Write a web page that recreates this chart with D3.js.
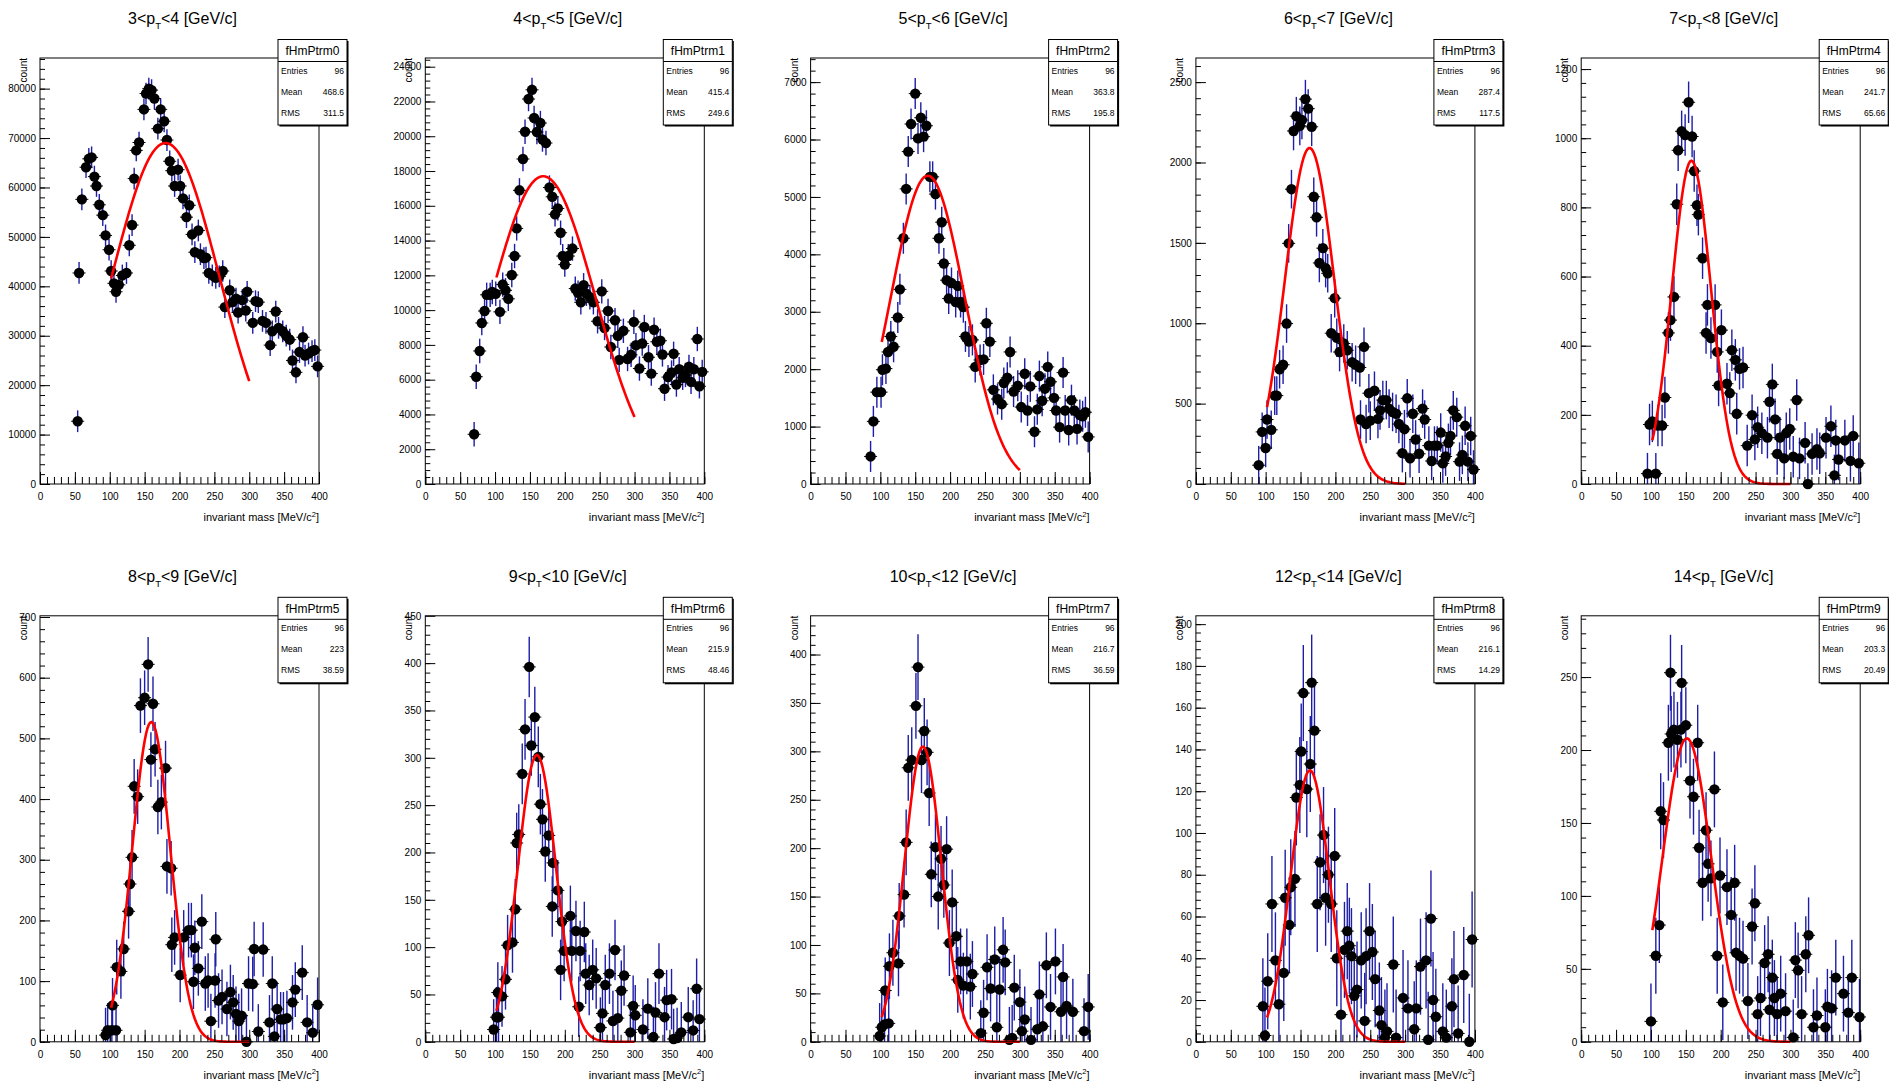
<!DOCTYPE html>
<html>
<head>
<meta charset="utf-8">
<script src="https://cdn.jsdelivr.net/npm/d3@7"></script>
<style>
  body { margin: 0; background: #fff; }
  svg { display: block; }
  text { font-family: "Liberation Sans", Arial, sans-serif; }
</style>
</head>
<body>
<svg width="1889" height="1083"></svg>
<script>
// pT bins of the ten pads
var ptLo = ["3", "4", "5", "6", "7", "8", "9", "10", "12", "14"];
var ptHi = ["4", "5", "6", "7", "8", "9", "10", "12", "14", ""];

// stats box contents
var histNames = ["fHmPtrm0", "fHmPtrm1", "fHmPtrm2", "fHmPtrm3", "fHmPtrm4",
                 "fHmPtrm5", "fHmPtrm6", "fHmPtrm7", "fHmPtrm8", "fHmPtrm9"];
var entries = [96, 96, 96, 96, 96, 96, 96, 96, 96, 96];
var means = ["468.6", "415.4", "363.8", "287.4", "241.7", "223", "215.9", "216.7", "216.1", "203.3"];
var rmss = ["311.5", "249.6", "195.8", "117.5", "65.66", "38.59", "48.46", "36.59", "14.29", "20.49"];

// y axis range and label step, typical half length of the error bars
var yMax = [86200, 24500, 7420, 2650, 1232, 702, 450, 440, 204, 292];
var yStep = [10000, 2000, 1000, 500, 200, 100, 50, 50, 20, 50];
var errBar = [2200, 700, 270, 120, 60, 45, 32, 34, 23, 26];

// gaussian fit parameters (amplitude, mean, sigma)
var fitAmp = [69000, 17700, 5370, 2090, 935, 527, 303, 305, 130, 208];
var fitMean = [180, 169, 168, 163, 158, 159.5, 160, 161, 163.5, 151.5];
var fitSigma = [77.5, 75, 53, 35.5, 28, 27.2, 27.5, 26.5, 28, 35];

// histogram points [mass, count]
var h0 = [[54,12700],[56,42700],[60,57600],[66,64100],[70,65800],[74,66100],[78,62200],[81,60300],[85,56500],[90,54400],[94,50300],[99,47400],[102,43100],[106,40600],[109,38900],[113,40300],[118,42200],[124,42700],[128,48300],[132,52400],[135,61800],[138,67500],[142,69100],[149,75800],[152,79000],[156,80000],[160,79700],[164,78000],[169,71900],[173,75800],[178,73400],[182,69600],[186,65300],[189,63400],[193,60300],[198,63600],[201,60300],[205,57800],[210,54000],[214,56400],[218,50500],[222,46900],[227,51300],[230,46500],[235,45700],[238,45800],[242,42700],[247,42200],[252,41700],[257,42000],[262,43100],[265,35800],[272,39200],[276,36800],[281,37500],[284,34700],[290,37200],[295,35100],[297,38900],[305,32600],[309,37000],[313,36800],[319,33000],[324,32600],[330,28100],[333,30900],[338,34900],[342,31600],[348,30900],[353,30000],[358,29200],[362,25000],[367,22600],[372,26700],[377,29700],[380,26000],[385,26400],[390,26900],[394,27100],[398,23800]];
var h1 = [[70,2860],[73,6170],[78,7650],[81,9260],[85,9950],[88,10880],[93,10880],[96,11040],[101,10940],[107,9900],[111,11470],[115,11140],[119,10650],[124,12020],[128,13110],[131,14700],[135,16890],[140,18690],[143,20260],[148,22140],[153,22670],[156,21050],[160,20240],[165,20760],[168,19810],[173,19610],[178,17050],[182,16520],[186,15510],[190,15850],[194,14450],[197,13110],[200,12620],[205,13110],[211,13540],[215,11240],[219,11000],[223,10450],[227,11430],[231,10940],[236,10740],[241,10450],[247,9360],[253,11080],[257,8970],[262,9950],[266,7880],[272,9420],[276,8520],[278,7140],[284,8810],[290,7190],[295,7430],[299,9320],[302,7980],[307,6640],[311,8080],[314,9030],[320,7290],[324,6350],[328,8870],[332,8180],[337,8240],[340,7450],[343,5480],[348,6150],[353,6410],[356,7490],[360,5720],[364,6600],[369,6110],[373,6270],[378,6740],[381,5870],[385,6600],[390,8340],[393,5620],[397,6450]];
var h2 = [[86,480],[90,1090],[95,1600],[101,1600],[103,1990],[108,2010],[111,2300],[115,2570],[119,2390],[125,2900],[128,3390],[133,4280],[137,5140],[140,5790],[144,6270],[150,6800],[154,6020],[158,6380],[162,6050],[166,6240],[171,5350],[175,5350],[179,5050],[184,4280],[188,4560],[191,3840],[195,3550],[198,3230],[202,3500],[208,3170],[211,3450],[215,3170],[219,3080],[222,2570],[227,2480],[232,2510],[236,2040],[243,2160],[248,2170],[252,2800],[257,2480],[262,1640],[268,1480],[274,1390],[277,1760],[282,1850],[286,2300],[291,1610],[297,1710],[302,1340],[307,1920],[311,1280],[315,1700],[321,910],[325,1300],[328,1880],[332,1450],[336,1660],[340,2040],[344,1780],[349,1500],[352,1280],[357,990],[362,1940],[365,1280],[370,940],[374,1460],[378,1280],[382,960],[386,1200],[390,1180],[394,1250],[398,820]];
var h3 = [[90,117],[95,324],[100,224],[102,401],[108,337],[113,550],[116,550],[120,714],[125,742],[130,998],[133,1497],[137,1834],[140,2196],[144,2288],[149,2228],[152,2264],[157,2394],[161,2335],[166,2222],[169,1787],[173,1659],[177,1375],[182,1467],[186,1343],[189,1311],[194,938],[199,1156],[202,910],[206,821],[212,874],[217,832],[224,757],[229,742],[235,725],[236,401],[241,853],[244,373],[248,565],[250,394],[256,580],[261,405],[264,458],[268,522],[273,522],[277,469],[282,448],[287,437],[291,373],[296,192],[299,341],[303,533],[307,160],[311,437],[315,277],[320,188],[325,469],[328,401],[334,239],[338,143],[342,239],[346,239],[351,320],[354,128],[358,171],[362,256],[365,299],[369,458],[374,416],[378,139],[382,181],[386,362],[390,139],[394,299],[398,90]];
var h4 = [[95,30],[98,172],[102,181],[107,30],[110,169],[116,169],[120,250],[125,437],[128,474],[133,541],[137,809],[139,965],[144,1020],[149,1009],[154,1104],[159,1005],[162,905],[166,806],[168,779],[174,653],[179,437],[181,518],[186,422],[192,518],[195,382],[197,285],[201,445],[209,290],[213,263],[216,387],[221,359],[223,203],[227,333],[232,337],[238,111],[245,199],[249,129],[253,164],[259,147],[267,134],[270,238],[274,288],[278,187],[281,87],[285,134],[291,74],[294,147],[299,159],[304,79],[309,243],[313,74],[321,119],[325,0],[331,87],[338,101],[342,89],[351,134],[358,167],[363,25],[365,126],[369,71],[378,126],[386,67],[390,139],[398,60]];
var h5 = [[94,11],[97,19],[103,19],[104,60],[109,19],[110,123],[116,116],[120,153],[127,215],[129,260],[132,304],[135,421],[140,404],[144,554],[150,567],[155,622],[159,465],[162,557],[165,482],[169,387],[174,395],[180,451],[182,289],[188,286],[189,160],[193,172],[201,110],[206,172],[213,184],[217,184],[220,99],[222,155],[227,121],[232,198],[237,96],[241,101],[245,34],[251,101],[252,169],[256,68],[261,74],[268,54],[273,82],[277,65],[281,46],[285,34],[289,43],[296,0],[299,96],[305,95],[307,153],[313,17],[320,152],[329,32],[333,96],[336,9],[340,54],[345,37],[349,37],[354,39],[362,65],[366,86],[376,114],[383,32],[391,15],[398,61]];
var h6 = [[98,13],[102,26],[104,52],[105,26],[110,48],[115,66],[118,102],[125,105],[129,140],[131,210],[134,219],[139,283],[143,330],[149,396],[152,313],[157,343],[162,301],[165,251],[168,235],[172,201],[177,218],[182,143],[183,189],[190,160],[194,76],[196,127],[199,96],[208,133],[210,96],[216,117],[220,37],[222,96],[228,116],[230,72],[235,60],[240,76],[245,67],[251,15],[254,30],[258,60],[264,72],[269,22],[272,97],[276,25],[281,54],[285,70],[294,10],[298,38],[301,28],[312,13],[319,35],[327,5],[330,31],[335,72],[343,26],[346,44],[353,45],[356,3],[361,4],[367,10],[377,26],[384,12],[389,56],[393,24]];
var h7 = [[99,6],[102,15],[106,18],[107,53],[112,19],[113,78],[118,92],[126,81],[127,130],[134,152],[137,206],[140,283],[145,291],[151,347],[154,387],[159,291],[163,321],[167,299],[170,257],[173,173],[179,201],[183,150],[187,189],[191,162],[195,199],[199,102],[203,144],[209,109],[211,64],[215,83],[219,58],[224,83],[229,57],[232,70],[244,9],[248,30],[253,77],[258,55],[264,85],[267,15],[271,54],[276,95],[279,82],[285,2],[289,4],[292,56],[300,41],[303,11],[307,23],[316,2],[325,13],[328,49],[333,16],[338,79],[344,36],[351,83],[359,31],[362,67],[367,37],[376,31],[392,11],[398,36]];
var h8 = [[96,17],[99,3],[103,29],[109,66],[114,39],[119,18],[126,33],[128,69],[134,56],[136,74],[142,78],[144,117],[149,123],[151,139],[154,167],[159,121],[164,133],[166,172],[170,149],[174,66],[178,86],[183,99],[186,69],[190,80],[194,66],[199,89],[202,40],[208,13],[213,44],[217,53],[220,46],[223,41],[227,22],[231,25],[237,39],[242,10],[244,41],[249,53],[253,43],[257,30],[263,15],[266,8],[271,2],[274,5],[283,37],[287,2],[297,21],[304,16],[313,6],[316,16],[322,36],[330,39],[333,1],[337,59],[340,20],[344,12],[354,5],[359,2],[367,17],[370,30],[376,4],[384,32],[392,0],[396,49]];
var h9 = [[100,14],[107,59],[112,80],[114,158],[118,152],[125,205],[128,253],[129,211],[133,214],[138,207],[143,214],[144,246],[150,217],[156,179],[161,168],[167,205],[169,133],[174,109],[179,145],[182,122],[186,112],[191,173],[195,59],[199,114],[203,27],[209,106],[215,87],[220,109],[222,61],[227,59],[232,57],[239,28],[245,79],[249,95],[253,19],[257,30],[263,54],[268,60],[270,22],[274,44],[277,30],[281,19],[286,33],[293,21],[304,3],[307,56],[311,49],[316,19],[322,60],[326,73],[333,10],[338,18],[350,10],[353,24],[359,23],[365,44],[376,33],[383,20],[388,44],[399,17]];
var hists = [h0, h1, h2, h3, h4, h5, h6, h7, h8, h9];

var W = 279, H = 426;   // frame size of one pad
var svg = d3.select('svg');

for (var i = 0; i < hists.length; i++) drawPad(i);

function drawPad(i) {
  var fx = 40 + (i % 5) * 385.3;
  var fy = 58 + Math.floor(i / 5) * 557.8;
  var g = svg.append('g').attr('transform', 'translate(' + fx + ',' + fy + ')');

  var x = d3.scaleLinear().domain([0, 400]).range([0, W]);
  var y = d3.scaleLinear().domain([0, yMax[i]]).range([H, 0]);
  var pts = hists[i], e = errBar[i];

  // blue error bars, clipped to the frame
  g.append('g').selectAll('line').data(pts).enter().append('line')
    .attr('x1', function (d) { return x(d[0]); })
    .attr('x2', function (d) { return x(d[0]); })
    .attr('y1', function (d) { return y(Math.max(0, d[1] - e)); })
    .attr('y2', function (d) { return y(Math.min(yMax[i], d[1] + e)); })
    .attr('stroke', '#1d1da6')
    .attr('stroke-width', 1.4);

  // small horizontal bars
  g.append('g').selectAll('line').data(pts).enter().append('line')
    .attr('x1', function (d) { return x(d[0]) - 6.5; })
    .attr('x2', function (d) { return x(d[0]) + 6.5; })
    .attr('y1', function (d) { return y(d[1]); })
    .attr('y2', function (d) { return y(d[1]); })
    .attr('stroke', '#000')
    .attr('stroke-width', 1);

  g.append('g').selectAll('circle').data(pts).enter().append('circle')
    .attr('cx', function (d) { return x(d[0]); })
    .attr('cy', function (d) { return y(d[1]); })
    .attr('r', 5.2)
    .attr('fill', '#000');

  // gaussian fit
  var gaus = function (m) {
    var t = (m - fitMean[i]) / fitSigma[i];
    return fitAmp[i] * Math.exp(-0.5 * t * t);
  };
  g.append('path')
    .datum(d3.range(102, 300.01, 2))
    .attr('d', d3.line().x(function (m) { return x(m); }).y(function (m) { return y(gaus(m)); }))
    .attr('fill', 'none')
    .attr('stroke', '#ff0000')
    .attr('stroke-width', 2.6);

  // frame
  g.append('rect').attr('width', W).attr('height', H)
    .attr('fill', 'none').attr('stroke', '#000').attr('stroke-width', 1);

  // x axis, ticks pointing inward
  var xMinor = g.append('g').attr('transform', 'translate(0,' + H + ')')
    .call(d3.axisBottom(x).tickValues(d3.range(0, 401, 10)).tickSize(-7).tickSizeOuter(0).tickFormat(''));
  var xMajor = g.append('g').attr('transform', 'translate(0,' + H + ')')
    .call(d3.axisBottom(x).tickValues(d3.range(0, 401, 50)).tickSize(-12).tickSizeOuter(0)
      .tickPadding(9).tickFormat(d3.format('d')));

  // y axis
  var ys = yStep[i];
  var yMinor = g.append('g')
    .call(d3.axisLeft(y).tickValues(d3.range(0, yMax[i], ys / 5)).tickSize(-5).tickSizeOuter(0).tickFormat(''));
  var yMajor = g.append('g')
    .call(d3.axisLeft(y).tickValues(d3.range(0, yMax[i] + 0.001, ys)).tickSize(-10).tickSizeOuter(0)
      .tickPadding(4).tickFormat(d3.format('d')));

  [xMinor, xMajor, yMinor, yMajor].forEach(function (a) {
    a.select('.domain').remove();
    a.attr('font-family', '"Liberation Sans", Arial, sans-serif').attr('font-size', 10);
    a.selectAll('line').attr('stroke', '#000').attr('stroke-width', 1);
    a.selectAll('text').attr('fill', '#000');
  });

  // axis titles
  g.append('text')
    .attr('transform', 'translate(-13,0) rotate(-90)')
    .attr('text-anchor', 'end')
    .attr('font-size', 10)
    .text('count');

  var xt = g.append('text')
    .attr('x', W).attr('y', H + 37)
    .attr('text-anchor', 'end')
    .attr('font-size', 11);
  xt.append('tspan').text('invariant mass [MeV/c');
  xt.append('tspan').attr('font-size', 7.5).attr('dy', -4.5).text('2');
  xt.append('tspan').attr('dy', 4.5).text(']');

  // stats box
  var bx = W - 41, by = -18.5, bw = 69, bh = 85.5;
  g.append('rect').attr('x', bx + 1.5).attr('y', by + 1.5).attr('width', bw).attr('height', bh).attr('fill', '#000');
  g.append('rect').attr('x', bx).attr('y', by).attr('width', bw).attr('height', bh)
    .attr('fill', '#fff').attr('stroke', '#000').attr('stroke-width', 1);
  g.append('line').attr('x1', bx).attr('x2', bx + bw).attr('y1', 3.5).attr('y2', 3.5)
    .attr('stroke', '#000').attr('stroke-width', 1);
  g.append('text').attr('x', bx + bw / 2).attr('y', -3).attr('text-anchor', 'middle')
    .attr('font-size', 12).text(histNames[i]);

  var rows = [['Entries', entries[i]], ['Mean', means[i]], ['RMS', rmss[i]]];
  rows.forEach(function (r, k) {
    var ry = 15.5 + k * 21;
    g.append('text').attr('x', bx + 3).attr('y', ry).attr('font-size', 8.5).text(r[0]);
    g.append('text').attr('x', bx + bw - 3).attr('y', ry).attr('text-anchor', 'end')
      .attr('font-size', 8.5).text(r[1]);
  });

  // pad title
  var tt = svg.append('text')
    .attr('x', fx + W / 2 + 3).attr('y', fy - 34)
    .attr('text-anchor', 'middle')
    .attr('font-size', 16);
  tt.append('tspan').text(ptLo[i] + '<p');
  tt.append('tspan').attr('font-size', 9.5).attr('dy', 5).text('T');
  tt.append('tspan').attr('dy', -5).text((ptHi[i] ? '<' + ptHi[i] : '') + ' [GeV/c]');
}
</script>
</body>
</html>
